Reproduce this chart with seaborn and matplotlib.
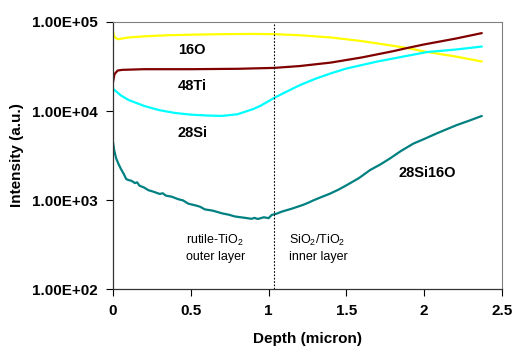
import numpy as np
import pandas as pd
import matplotlib
matplotlib.use('Agg')
import matplotlib.pyplot as plt
import seaborn as sns

# depth profiles (depth in micron, intensity in a.u.)
o16_depth = [0, 0.01, 0.03, 0.1, 0.2, 0.35, 0.5, 0.7, 0.9, 1.035, 1.2, 1.4, 1.6, 1.8, 1.89, 2.02, 2.2, 2.37]
o16_int = [7.7e4, 6.8e4, 6.4e4, 6.7e4, 6.9e4, 7.1e4, 7.2e4, 7.3e4, 7.35e4, 7.3e4, 7.1e4, 6.7e4,
           6.1e4, 5.4e4, 5.1e4, 4.6e4, 4.1e4, 3.6e4]

ti48_depth = [0, 0.01, 0.03, 0.06, 0.2, 0.5, 0.8, 1.035, 1.2, 1.4, 1.6, 1.8, 1.89, 2.0, 2.2, 2.37]
ti48_int = [2.1e4, 2.6e4, 2.85e4, 2.9e4, 2.95e4, 2.95e4, 2.98e4, 3.05e4, 3.2e4, 3.5e4, 4.0e4,
            4.7e4, 5.1e4, 5.6e4, 6.5e4, 7.5e4]

si28_depth = [0, 0.05, 0.1, 0.2, 0.3, 0.4, 0.5, 0.6, 0.7, 0.8, 0.9, 0.95, 1.035, 1.1, 1.2, 1.3,
              1.4, 1.5, 1.7, 1.9, 2.02, 2.2, 2.37]
si28_int = [1.78e4, 1.5e4, 1.33e4, 1.14e4, 1.02e4, 9.5e3, 9.1e3, 8.9e3, 8.8e3, 9.2e3, 1.05e4,
            1.15e4, 1.4e4, 1.6e4, 1.95e4, 2.3e4, 2.65e4, 3.0e4, 3.6e4, 4.2e4, 4.6e4, 4.9e4, 5.3e4]

sio_depth = [0, 0.008, 0.02, 0.034, 0.05, 0.07, 0.085, 0.098, 0.12, 0.141, 0.155, 0.17, 0.2,
             0.227, 0.26, 0.3, 0.32, 0.34, 0.377, 0.42, 0.45, 0.484, 0.53, 0.56, 0.59, 0.64,
             0.67, 0.698, 0.75, 0.78, 0.805, 0.85, 0.89, 0.91, 0.93, 0.97, 1.0, 1.02, 1.05,
             1.084, 1.15, 1.22, 1.26, 1.287, 1.34, 1.395, 1.45, 1.502, 1.58, 1.652, 1.72,
             1.78, 1.85, 1.93, 2.0, 2.08, 2.15, 2.21, 2.29, 2.37]
sio_int = [4.5e3, 3.6e3, 2.95e3, 2.57e3, 2.25e3, 1.95e3, 1.72e3, 1.68e3, 1.64e3, 1.55e3,
           1.58e3, 1.45e3, 1.38e3, 1.29e3, 1.24e3, 1.17e3, 1.19e3, 1.12e3, 1.09e3, 1.02e3,
           0.99e3, 0.91e3, 0.87e3, 0.84e3, 0.785e3, 0.76e3, 0.735e3, 0.71e3, 0.68e3, 0.655e3,
           0.645e3, 0.63e3, 0.615e3, 0.63e3, 0.612e3, 0.64e3, 0.625e3, 0.68e3, 0.7e3, 0.74e3,
           0.8e3, 0.88e3, 0.94e3, 0.99e3, 1.08e3, 1.18e3, 1.31e3, 1.47e3, 1.76e3, 2.17e3,
           2.52e3, 2.93e3, 3.55e3, 4.3e3, 4.85e3, 5.6e3, 6.3e3, 6.96e3, 7.8e3, 8.8e3]

series_names = ['16O', '48Ti', '28Si', '28Si16O']
series_colors = ['#FFFF00', '#800000', '#00FFFF', '#008080']
interface_depth = 1.035

frames = []
for name, d, v in zip(series_names,
                      [o16_depth, ti48_depth, si28_depth, sio_depth],
                      [o16_int, ti48_int, si28_int, sio_int]):
    frames.append(pd.DataFrame({'depth': d, 'intensity': v, 'species': name}))
df = pd.concat(frames, ignore_index=True)

sns.set_style('ticks')
plt.rcParams['font.family'] = ['Liberation Sans', 'DejaVu Sans']
plt.rcParams['text.color'] = 'black'
plt.rcParams['axes.labelcolor'] = 'black'
plt.rcParams['xtick.color'] = 'black'
plt.rcParams['ytick.color'] = 'black'
plt.rcParams['mathtext.fontset'] = 'custom'
plt.rcParams['mathtext.rm'] = 'Liberation Sans'
plt.rcParams['mathtext.it'] = 'Liberation Sans'
plt.rcParams['mathtext.bf'] = 'Liberation Sans:bold'

fig = plt.figure(figsize=(5.15, 3.47), dpi=100)
ax = fig.add_axes([0.2194, 0.1671, 0.7554, 0.7695])

sns.lineplot(data=df, x='depth', y='intensity', hue='species', hue_order=series_names,
             palette=series_colors, linewidth=1.6, legend=False, ax=ax, sort=False,
             estimator=None)

ax.axvline(interface_depth, color='black', linestyle=(0, (1.5, 1.5)), linewidth=0.8)

ax.set_yscale('log')
ax.set_ylim(1e2, 1e5)
ax.set_xlim(0, 2.5)
ax.set_yticks([1e2, 1e3, 1e4, 1e5])
ax.set_yticklabels(['1.00E+02', '1.00E+03', '1.00E+04', '1.00E+05'])
ax.minorticks_off()
ax.set_xticks([0, 0.5, 1, 1.5, 2, 2.5])
ax.set_xticklabels(['0', '0.5', '1', '1.5', '2', '2.5'])
ax.tick_params(axis='both', labelsize=11, length=5, width=0.8, color='black', pad=6)
for lab in ax.get_xticklabels() + ax.get_yticklabels():
    lab.set_fontweight('bold')

ax.set_xlabel('Depth (micron)', fontsize=11, fontweight='bold', labelpad=10)
ax.set_ylabel('Intensity (a.u.)', fontsize=11, fontweight='bold', labelpad=6)

for side in ['top', 'right']:
    ax.spines[side].set_color('#808080')
    ax.spines[side].set_linewidth(0.8)
for side in ['left', 'bottom']:
    ax.spines[side].set_color('#333333')
    ax.spines[side].set_linewidth(0.9)

# species labels
ax.text(0.51, 4.9e4, '16O', fontsize=10.5, fontweight='bold', ha='center', va='center')
ax.text(0.51, 1.9e4, '48Ti', fontsize=10.5, fontweight='bold', ha='center', va='center')
ax.text(0.51, 5.7e3, '28Si', fontsize=10.5, fontweight='bold', ha='center', va='center')
ax.text(2.02, 2.0e3, '28Si16O', fontsize=10.5, fontweight='bold', ha='center', va='center')

# layer labels
ax.text(0.47, 2.9e2, 'rutile-TiO$_2$\nouter layer', fontsize=9, ha='left', va='center',
        linespacing=1.3)
ax.text(1.13, 2.9e2, 'SiO$_2$/TiO$_2$\ninner layer', fontsize=9, ha='left', va='center',
        linespacing=1.3)

fig.savefig('out.png', dpi=100)
